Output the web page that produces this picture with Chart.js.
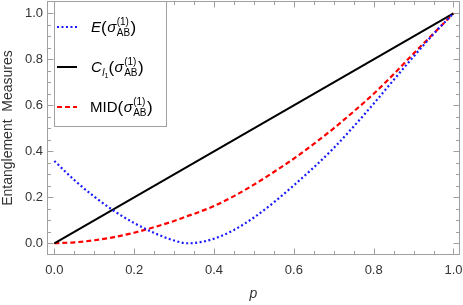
<!DOCTYPE html>
<html>
<head>
<meta charset="utf-8">
<script src="https://cdn.jsdelivr.net/npm/chart.js@4.4.0/dist/chart.umd.min.js"></script>
<style>
  html, body { margin: 0; padding: 0; background: #fff; }
</style>
</head>
<body>
<canvas id="chart" width="463" height="305"></canvas>
<script>
// values
const pValues   = [0, 0.05, 0.1, 0.15, 0.2, 0.25, 0.3, 0.3333, 0.35, 0.4, 0.45, 0.5, 0.55, 0.6, 0.65, 0.7, 0.75, 0.8, 0.85, 0.9, 0.95, 1];
const eValues   = [0.358, 0.275, 0.203, 0.140, 0.088, 0.045, 0.012, 0, 0.001, 0.02, 0.058, 0.112, 0.178, 0.252, 0.330, 0.414, 0.508, 0.607, 0.71, 0.812, 0.91, 1.0];
const midValues = [0, 0.004, 0.013, 0.027, 0.046, 0.07, 0.097, 0.118, 0.128, 0.162, 0.205, 0.255, 0.31, 0.368, 0.432, 0.5, 0.573, 0.65, 0.735, 0.825, 0.912, 1.0];
const clP       = [0, 1];
const clValues  = [0, 1];

const majorTicks = [0, 0.2, 0.4, 0.6, 0.8, 1.0];
const tickLabels = ['0.0', '0.2', '0.4', '0.6', '0.8', '1.0'];

const yTitle = 'Entanglement  Measures';
const xTitle = 'p';

const legendNames = ['E', 'C', 'MID'];
const legendColors = ['#1a1aff', '#000000', '#ff0000'];

const FONT = '"Liberation Sans", Arial, sans-serif';

function toPoints(xs, ys) {
	return xs.map((x, i) => ({x: x, y: ys[i]}));
}

function allTicks() {
	let t = [];
	for (let i = 0; i <= 20; i++) t.push({value: i * 0.05});
	return t;
}

function tickLabel(v) {
	for (let i = 0; i < majorTicks.length; i++) {
		if (Math.abs(v - majorTicks[i]) < 1e-6) return tickLabels[i];
	}
	return '';
}

// frame with inward ticks on all four sides (Mathematica style)
const framePlugin = {
	id: 'frame',
	afterDatasetsDraw(chart) {
		const ctx = chart.ctx;
		const a = chart.chartArea;
		const xs = chart.scales.x, ys = chart.scales.y;
		ctx.save();
		ctx.strokeStyle = '#a0a0a0';
		ctx.lineWidth = 1;
		const L = Math.round(a.left) + 0.5, R = Math.round(a.right) - 0.5;
		const T = Math.round(a.top) + 0.5, B = Math.round(a.bottom) - 0.5;
		ctx.strokeRect(L, T, R - L, B - T);
		ctx.beginPath();
		for (let i = 0; i <= 20; i++) {
			const v = i * 0.05;
			const len = (i % 4 === 0) ? 6 : 3.5;
			const px = Math.round(xs.getPixelForValue(v)) + 0.5;
			ctx.moveTo(px, B); ctx.lineTo(px, B - len);
			ctx.moveTo(px, T); ctx.lineTo(px, T + len);
			const py = Math.round(ys.getPixelForValue(v)) + 0.5;
			ctx.moveTo(L, py); ctx.lineTo(L + len, py);
			ctx.moveTo(R, py); ctx.lineTo(R - len, py);
		}
		ctx.stroke();
		ctx.restore();
	}
};

function seg(ctx, txt, x, y, size, italic) {
	ctx.font = (italic ? 'italic ' : '') + size + 'px ' + FONT;
	ctx.fillText(txt, x, y);
	return x + ctx.measureText(txt).width;
}

// sigma_AB^(1) inside parentheses
function argPart(ctx, x, b) {
	x = seg(ctx, '(', x, b + 1, 17, false);
	x = seg(ctx, 'σ', x + 0.5, b, 15, true);
	const x1 = seg(ctx, '(1)', x + 0.5, b - 7, 10, false);
	const x2 = seg(ctx, 'AB', x + 0.5, b + 4, 10, false);
	x = Math.max(x1, x2);
	x = seg(ctx, ')', x + 0.5, b + 1, 17, false);
	return x;
}

const legendPlugin = {
	id: 'richLegend',
	afterDraw(chart) {
		const ctx = chart.ctx;
		const ds = chart.data.datasets;
		ctx.save();
		ctx.fillStyle = '#fff';
		ctx.fillRect(54, 1, 113, 126);
		ctx.strokeStyle = '#a0a0a0';
		ctx.lineWidth = 1;
		ctx.strokeRect(54.5, 1.5, 112, 125);
		const rows = [27, 67, 107];
		rows.forEach((cy, i) => {
			const d = ds[i];
			ctx.strokeStyle = d.borderColor;
			ctx.lineWidth = d.borderWidth;
			ctx.setLineDash(d.borderDash || []);
			ctx.beginPath();
			ctx.moveTo(57, cy);
			ctx.lineTo(77, cy);
			ctx.stroke();
			ctx.setLineDash([]);
			ctx.fillStyle = '#000';
			ctx.textBaseline = 'alphabetic';
			const b = cy + 5;
			let x = 91;
			if (legendNames[i] === 'E') {
				x = seg(ctx, 'E', x, b, 15, true);
			} else if (legendNames[i] === 'C') {
				x = seg(ctx, 'C', x, b, 15, true);
				x = seg(ctx, 'l', x + 0.5, b + 4, 10, true);
				x = seg(ctx, '1', x, b + 6, 7, false);
			} else {
				x = seg(ctx, legendNames[i], x - 1, b, 15, false);
			}
			argPart(ctx, x, b);
		});
		ctx.restore();
	}
};

let ctx = document.getElementById('chart').getContext('2d');

let chart = new Chart(ctx, {
	type: 'line',
	data: {
		datasets: [{
			label: 'E',
			data: toPoints(pValues, eValues),
			borderColor: legendColors[0],
			borderWidth: 2.2,
			borderDash: [2, 2.5],
			cubicInterpolationMode: 'monotone',
			pointRadius: 0,
			fill: false,
		}, {
			label: 'C',
			data: toPoints(clP, clValues),
			borderColor: legendColors[1],
			borderWidth: 2,
			pointRadius: 0,
			fill: false,
		}, {
			label: 'MID',
			data: toPoints(pValues, midValues),
			borderColor: legendColors[2],
			borderWidth: 2.2,
			borderDash: [5, 3],
			cubicInterpolationMode: 'monotone',
			pointRadius: 0,
			fill: false,
		}]
	},
	options: {
		responsive: false,
		animation: false,
		layout: {
			padding: {top: 1, right: 3, left: 0, bottom: 0}
		},
		plugins: {
			legend: {display: false},
			tooltip: {enabled: false},
		},
		scales: {
			x: {
				type: 'linear',
				min: -0.0184,
				max: 1.0163,
				afterBuildTicks: (s) => { s.ticks = allTicks(); },
				afterFit: (s) => { s.height = 50; s.paddingLeft = 0; s.paddingRight = 0; },
				grid: {display: false, drawTicks: false},
				border: {display: false},
				ticks: {
					autoSkip: false,
					maxRotation: 0,
					padding: 8,
					color: '#333',
					font: {family: FONT, size: 13},
					callback: (v) => tickLabel(v),
				},
				title: {
					display: true,
					text: xTitle,
					color: '#333',
					padding: {top: 0, bottom: 2},
					font: {family: FONT, size: 14, style: 'italic'},
				}
			},
			y: {
				min: -0.051,
				max: 1.0535,
				afterBuildTicks: (s) => { s.ticks = allTicks(); },
				afterFit: (s) => { s.width = 47; s.paddingTop = 0; s.paddingBottom = 0; },
				grid: {display: false, drawTicks: false},
				border: {display: false},
				ticks: {
					autoSkip: false,
					padding: 4,
					color: '#333',
					font: {family: FONT, size: 13},
					callback: (v) => tickLabel(v),
				},
				title: {
					display: true,
					text: yTitle,
					color: '#333',
					padding: {top: 0, bottom: 0},
					font: {family: FONT, size: 14},
				}
			}
		}
	},
	plugins: [framePlugin, legendPlugin]
});
</script>
</body>
</html>
